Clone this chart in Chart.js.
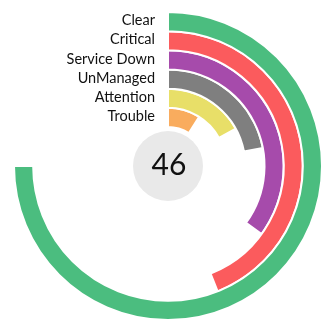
<!DOCTYPE html>
<html>
<head>
<meta charset="utf-8">
<script src="https://cdn.jsdelivr.net/npm/chart.js@4/dist/chart.umd.min.js"></script>
<style>
  html, body { margin: 0; padding: 0; background: #fff; overflow: hidden; }
  #wrap { width: 330px; height: 330px; }
</style>
</head>
<body>
<div id="wrap"><canvas id="radial"></canvas></div>
<script>
const categories = ["Clear", "Critical", "Service Down", "UnManaged", "Attention", "Trouble"];
const percents = [75, 44, 35, 22, 17, 9];
const colors = ["#4bbd7f", "#fb5b5d", "#a64bab", "#7f7f7f", "#e8df68", "#f9ac5e"];
const totalLabel = "46";

const datasets = categories.map((name, i) => ({
  label: name,
  data: [percents[i], 100 - percents[i]],
  backgroundColor: [colors[i], "rgba(0,0,0,0)"],
  borderColor: ["#ffffff", "rgba(0,0,0,0)"],
  borderWidth: [2, 0]
}));

// ring names to the left of each ring's starting point
const ringLabels = {
  id: "ringLabels",
  afterDatasetsDraw(chart) {
    const ctx = chart.ctx;
    ctx.save();
    ctx.font = "14.5px Lato";
    ctx.fillStyle = "#111";
    ctx.textAlign = "right";
    ctx.textBaseline = "middle";
    chart.data.datasets.forEach((ds, i) => {
      const arc = chart.getDatasetMeta(i).data[0];
      const r = (arc.innerRadius + arc.outerRadius) / 2;
      ctx.fillText(ds.label, arc.x - 13, arc.y - r - 1);
    });
    ctx.restore();
  }
};

// grey disc with the total in the middle
const centerTotal = {
  id: "centerTotal",
  afterDatasetsDraw(chart) {
    const arc = chart.getDatasetMeta(0).data[0];
    const ctx = chart.ctx;
    ctx.save();
    ctx.beginPath();
    ctx.arc(arc.x, arc.y, 35, 0, Math.PI * 2);
    ctx.fillStyle = "#e9e9e9";
    ctx.fill();
    ctx.font = "30px Lato";
    ctx.fillStyle = "#111";
    ctx.textAlign = "center";
    ctx.textBaseline = "middle";
    ctx.fillText(totalLabel, arc.x + 1, arc.y - 1);
    ctx.restore();
  }
};

new Chart(document.getElementById("radial"), {
  type: "doughnut",
  data: { labels: ["value", "rest"], datasets },
  options: {
    responsive: true,
    maintainAspectRatio: false,
    animation: false,
    events: [],
    cutout: 39,
    layout: { padding: { left: 13, right: 7, top: 11, bottom: 9 } },
    plugins: {
      legend: { display: false },
      tooltip: { enabled: false }
    }
  },
  plugins: [ringLabels, centerTotal]
});
</script>
</body>
</html>
